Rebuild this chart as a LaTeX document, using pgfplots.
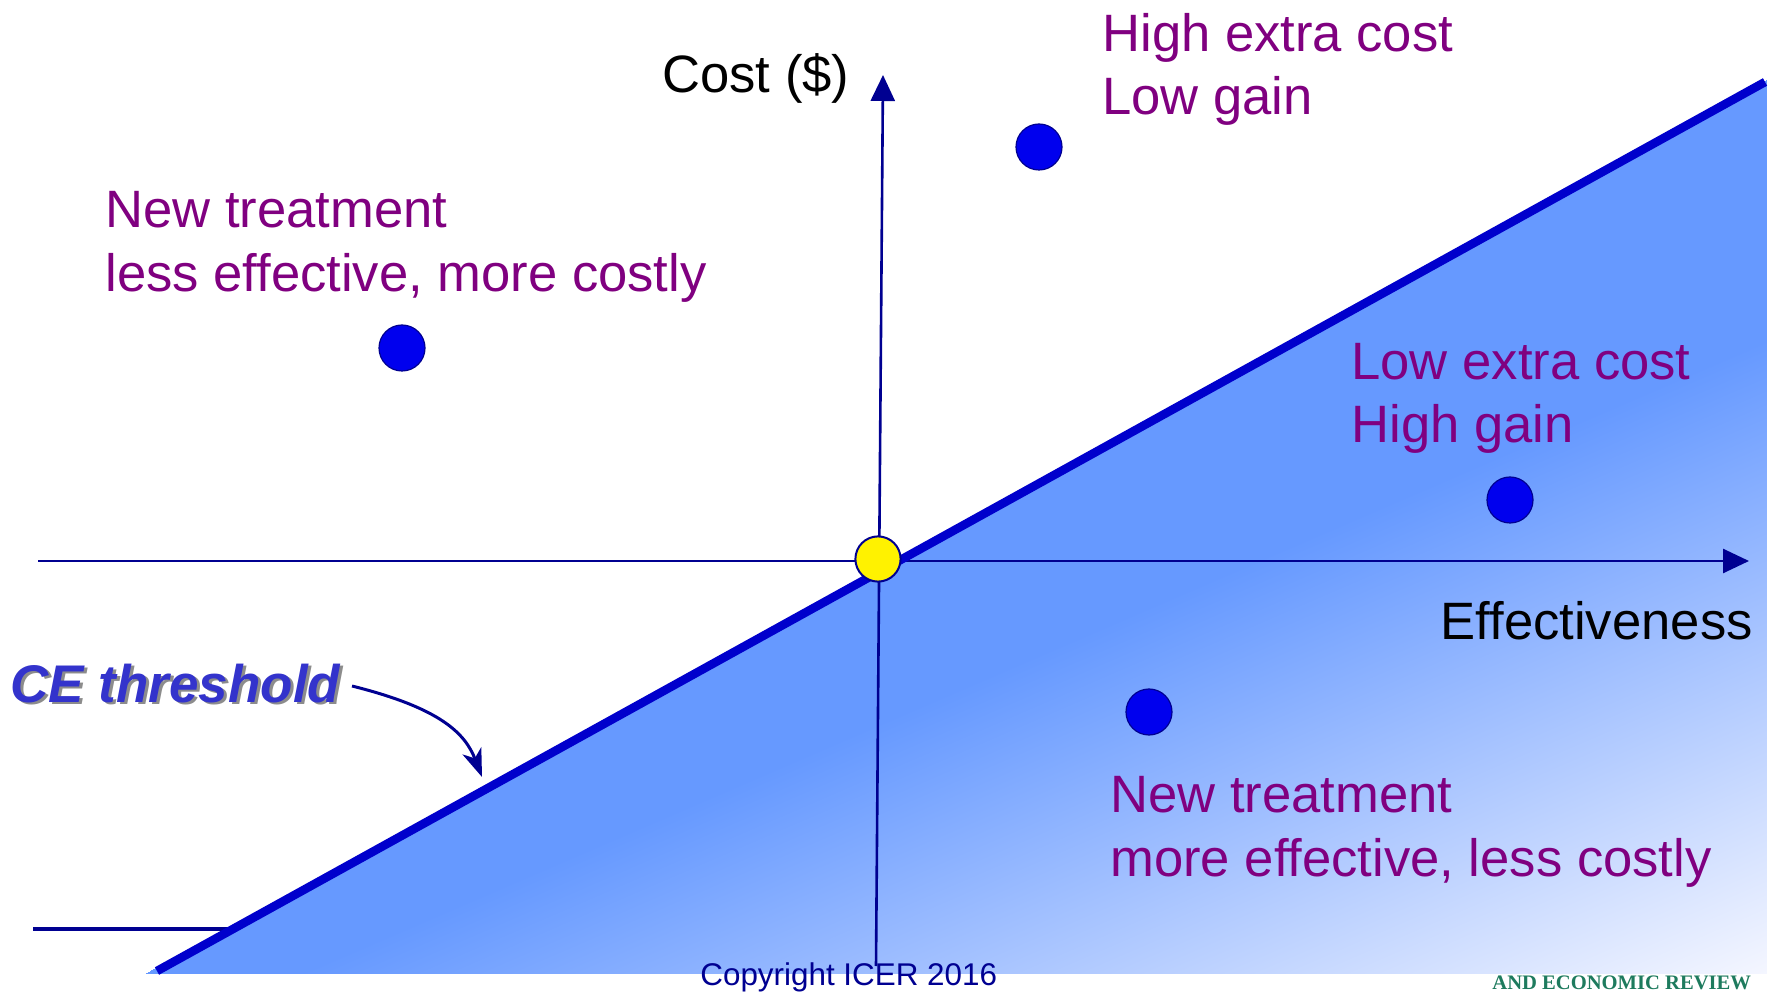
\documentclass[border=0pt]{standalone}
\usepackage{fontspec}
\setmainfont{Liberation Sans}
\newfontfamily\serifbold{Liberation Serif}
\usepackage{pgfplots}
\pgfplotsset{compat=1.18}
\usetikzlibrary{arrows.meta}
\definecolor{purp}{RGB}{128,0,128}
\definecolor{navy}{RGB}{0,0,145}
\definecolor{celine}{RGB}{0,0,204}
\definecolor{dotblue}{RGB}{0,0,238}
\definecolor{cetext}{RGB}{51,51,204}
\definecolor{teal2}{RGB}{30,123,94}
\newcommand{\bigf}{\fontsize{26.3}{31}\selectfont}
% shaded region (x, y, share of light colour)
\pgfplotstableread{
x y c
146 18 0
1766 911 0
1766 651 0
146 18 0
1766 651 0
300 18 0
300 18 0
1766 651 0
1766 18 1
}\shadetri
\begin{document}
\begin{tikzpicture}
\useasboundingbox (0,0) rectangle (885.5pt,495.5pt);
\clip (0,0) rectangle (885.5pt,495.5pt);
\begin{axis}[
  at={(0,0)}, anchor=south west,
  width=885.5pt, height=495.5pt, scale only axis,
  xmin=0, xmax=1771, ymin=0, ymax=991,
  hide axis, clip=false,
  colormap={ce}{rgb255=(102,153,255) rgb255=(244,246,255)},
  point meta min=0, point meta max=1,
]
% background
\addplot[draw=none, fill=white] coordinates {(0,0) (1771,0) (1771,991) (0,991)} -- cycle;
% short line bottom-left
\addplot[navy, line width=2pt] coordinates {(33,62) (300,62)};
% shaded region below the CE threshold
\addplot[patch, patch type=triangle, shader=interp, point meta=explicit] table[x=x, y=y, meta=c] {\shadetri};
% axes
\addplot[navy, line width=1.3pt, -{Triangle[length=13pt, width=12pt]}] coordinates {(38,430) (1749,430)};
\addplot[navy, line width=1.3pt, -{Triangle[length=13pt, width=12pt]}] coordinates {(876,25) (883,916)};
% origin
\addplot[only marks, mark=*, mark size=11.3pt, mark options={fill=yellow, draw=navy, line width=1pt}] coordinates {(878,432)};
% CE threshold line
\addplot[celine, line width=4.3pt] coordinates {(157,20) (1765,909)};
% treatments
\addplot[only marks, mark=*, mark size=11.5pt, mark options={fill=dotblue, draw=navy, line width=0.6pt}] coordinates {(402,643) (1039,844) (1510,491) (1149,279)};
% texts
\node[anchor=base west, inner sep=0, font=\bigf] at (axis cs:662,898) {Cost (\$)};
\node[anchor=base east, inner sep=0, font=\bigf] at (axis cs:1753,351) {Effectiveness};
\node[anchor=base west, inner sep=0, font=\bigf, text=purp] at (axis cs:1102,939) {High extra cost};
\node[anchor=base west, inner sep=0, font=\bigf, text=purp] at (axis cs:1102,876) {Low gain};
\node[anchor=base west, inner sep=0, font=\bigf, text=purp] at (axis cs:105,763) {New treatment};
\node[anchor=base west, inner sep=0, font=\bigf, text=purp] at (axis cs:105,699) {less effective, more costly};
\node[anchor=base west, inner sep=0, font=\bigf, text=purp] at (axis cs:1351,611) {Low extra cost};
\node[anchor=base west, inner sep=0, font=\bigf, text=purp] at (axis cs:1351,548) {High gain};
\node[anchor=base west, inner sep=0, font=\bigf, text=purp] at (axis cs:1110,179) {New treatment};
\node[anchor=base west, inner sep=0, font=\bigf, text=purp] at (axis cs:1110,115) {more effective, less costly};
% CE threshold label with shadow
\node[anchor=base west, inner sep=0, font=\fontsize{26.5}{31}\selectfont\bfseries\itshape, text=black!45] at (axis cs:13,286) {CE threshold};
\node[anchor=base west, inner sep=0, font=\fontsize{26.5}{31}\selectfont\bfseries\itshape, text=cetext] at (axis cs:10,289) {CE threshold};
\draw[navy, line width=1.5pt, -{Stealth[length=14pt, width=10pt, inset=4pt]}] (axis cs:352,305) .. controls (axis cs:440,283) and (axis cs:465,258) .. (axis cs:482,214);
% footer texts
\node[anchor=base west, inner sep=0, font=\fontsize{15.7}{18}\selectfont, text=navy] at (axis cs:700,6) {Copyright ICER 2016};
\node[anchor=base west, inner sep=0, font=\serifbold\bfseries\fontsize{10.3}{12}\selectfont, text=teal2] at (axis cs:1492,2) {AND ECONOMIC REVIEW};
\end{axis}
\end{tikzpicture}
\end{document}
